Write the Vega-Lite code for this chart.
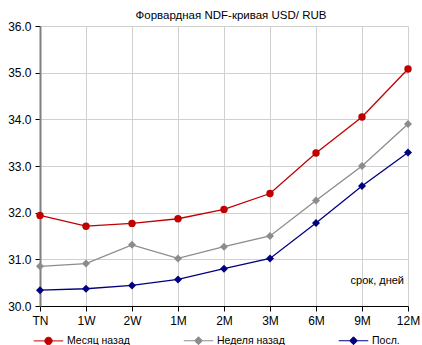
{
  "$schema": "https://vega.github.io/schema/vega-lite/v6.json",
  "autosize": {"type": "none"},
  "width": 368,
  "height": 280,
  "padding": {"left": 40, "top": 26, "right": 14, "bottom": 39},
  "background": "white",
  "config": {
    "font": "Liberation Sans",
    "view": {"stroke": null},
    "axis": {
      "labelFont": "Liberation Sans",
      "labelFontSize": 12,
      "labelColor": "#000000",
      "gridColor": "#d0d0d0",
      "gridWidth": 1,
      "tickSize": 5,
      "tickColor": "#000000",
      "title": null
    }
  },
  "title": {
    "text": "Форвардная NDF-кривая USD/ RUB",
    "fontSize": 11.5,
    "fontWeight": "normal",
    "color": "#000000",
    "offset": -1,
    "dx": 7
  },
  "datasets": {
    "curves": [
      {"term": "TN", "series": "Месяц назад", "value": 31.94},
      {"term": "1W", "series": "Месяц назад", "value": 31.71},
      {"term": "2W", "series": "Месяц назад", "value": 31.77},
      {"term": "1M", "series": "Месяц назад", "value": 31.87},
      {"term": "2M", "series": "Месяц назад", "value": 32.07},
      {"term": "3M", "series": "Месяц назад", "value": 32.41},
      {"term": "6M", "series": "Месяц назад", "value": 33.28},
      {"term": "9M", "series": "Месяц назад", "value": 34.05},
      {"term": "12M", "series": "Месяц назад", "value": 35.08},
      {"term": "TN", "series": "Неделя назад", "value": 30.85},
      {"term": "1W", "series": "Неделя назад", "value": 30.91},
      {"term": "2W", "series": "Неделя назад", "value": 31.31},
      {"term": "1M", "series": "Неделя назад", "value": 31.02},
      {"term": "2M", "series": "Неделя назад", "value": 31.27},
      {"term": "3M", "series": "Неделя назад", "value": 31.5},
      {"term": "6M", "series": "Неделя назад", "value": 32.26},
      {"term": "9M", "series": "Неделя назад", "value": 33.0},
      {"term": "12M", "series": "Неделя назад", "value": 33.9},
      {"term": "TN", "series": "Посл.", "value": 30.34},
      {"term": "1W", "series": "Посл.", "value": 30.37},
      {"term": "2W", "series": "Посл.", "value": 30.44},
      {"term": "1M", "series": "Посл.", "value": 30.57},
      {"term": "2M", "series": "Посл.", "value": 30.8},
      {"term": "3M", "series": "Посл.", "value": 31.02},
      {"term": "6M", "series": "Посл.", "value": 31.78},
      {"term": "9M", "series": "Посл.", "value": 32.57},
      {"term": "12M", "series": "Посл.", "value": 33.29}
    ],
    "note": [{"label": "срок, дней", "term": "12M", "value": 30.53}]
  },
  "layer": [
    {
      "data": {"name": "curves"},
      "mark": {"type": "line", "strokeWidth": 1.3},
      "encoding": {
        "x": {
          "field": "term",
          "type": "ordinal",
          "sort": null,
          "scale": {"type": "point", "padding": 0, "domain": ["TN", "1W", "2W", "1M", "2M", "3M", "6M", "9M", "12M"]},
          "axis": {"labelAngle": 0, "grid": true, "domainColor": "#000000", "labelPadding": 4}
        },
        "y": {
          "field": "value",
          "type": "quantitative",
          "scale": {"domain": [30, 36], "nice": false, "zero": false},
          "axis": {
            "values": [30, 31, 32, 33, 34, 35, 36],
            "format": ".1f",
            "grid": true,
            "domainColor": "#808080",
            "domainWidth": 2,
            "labelPadding": 4
          }
        },
        "color": {
          "field": "series",
          "type": "nominal",
          "scale": {"domain": ["Месяц назад", "Неделя назад", "Посл."], "range": ["#c00000", "#8c8c8c", "#000080"]},
          "legend": {
            "title": null,
            "orient": "none",
            "direction": "horizontal",
            "legendX": -7,
            "legendY": 299,
            "symbolSize": 870,
            "symbolStrokeWidth": 1,
            "labelFontSize": 10.5,
            "labelColor": "#000000",
            "labelOffset": 3,
            "columnPadding": 51,
            "encode": {
              "symbols": {
                "update": {
                  "shape": {"signal": "datum.value === 'Месяц назад' ? 'M-1,0H-0.25M0.25,0H1M-0.25,0A0.25,0.25 0 1,1 0.25,0A0.25,0.25 0 1,1 -0.25,0Z' : 'M-1,0H-0.27M0.27,0H1M-0.27,0L0,-0.27L0.27,0L0,0.27Z'"},
                  "fill": {"scale": "color", "field": "value"},
                  "stroke": {"scale": "color", "field": "value"},
                  "strokeWidth": {"value": 1},
                  "opacity": {"value": 1}
                }
              }
            }
          }
        }
      }
    },
    {
      "data": {"name": "curves"},
      "transform": [{"filter": "datum.series === 'Месяц назад'"}],
      "mark": {"type": "point", "shape": "circle", "filled": true, "opacity": 1, "size": 55},
      "encoding": {
        "x": {"field": "term", "type": "ordinal", "sort": null},
        "y": {"field": "value", "type": "quantitative"},
        "color": {"field": "series", "type": "nominal"}
      }
    },
    {
      "data": {"name": "curves"},
      "transform": [{"filter": "datum.series !== 'Месяц назад'"}],
      "mark": {"type": "point", "shape": "diamond", "filled": true, "opacity": 1, "size": 64},
      "encoding": {
        "x": {"field": "term", "type": "ordinal", "sort": null},
        "y": {"field": "value", "type": "quantitative"},
        "color": {"field": "series", "type": "nominal"}
      }
    },
    {
      "data": {"name": "note"},
      "mark": {"type": "text", "align": "right", "baseline": "middle", "fontSize": 11, "color": "#000000", "dx": -4},
      "encoding": {
        "x": {"field": "term", "type": "ordinal", "sort": null},
        "y": {"field": "value", "type": "quantitative"},
        "text": {"field": "label"}
      }
    }
  ]
}
